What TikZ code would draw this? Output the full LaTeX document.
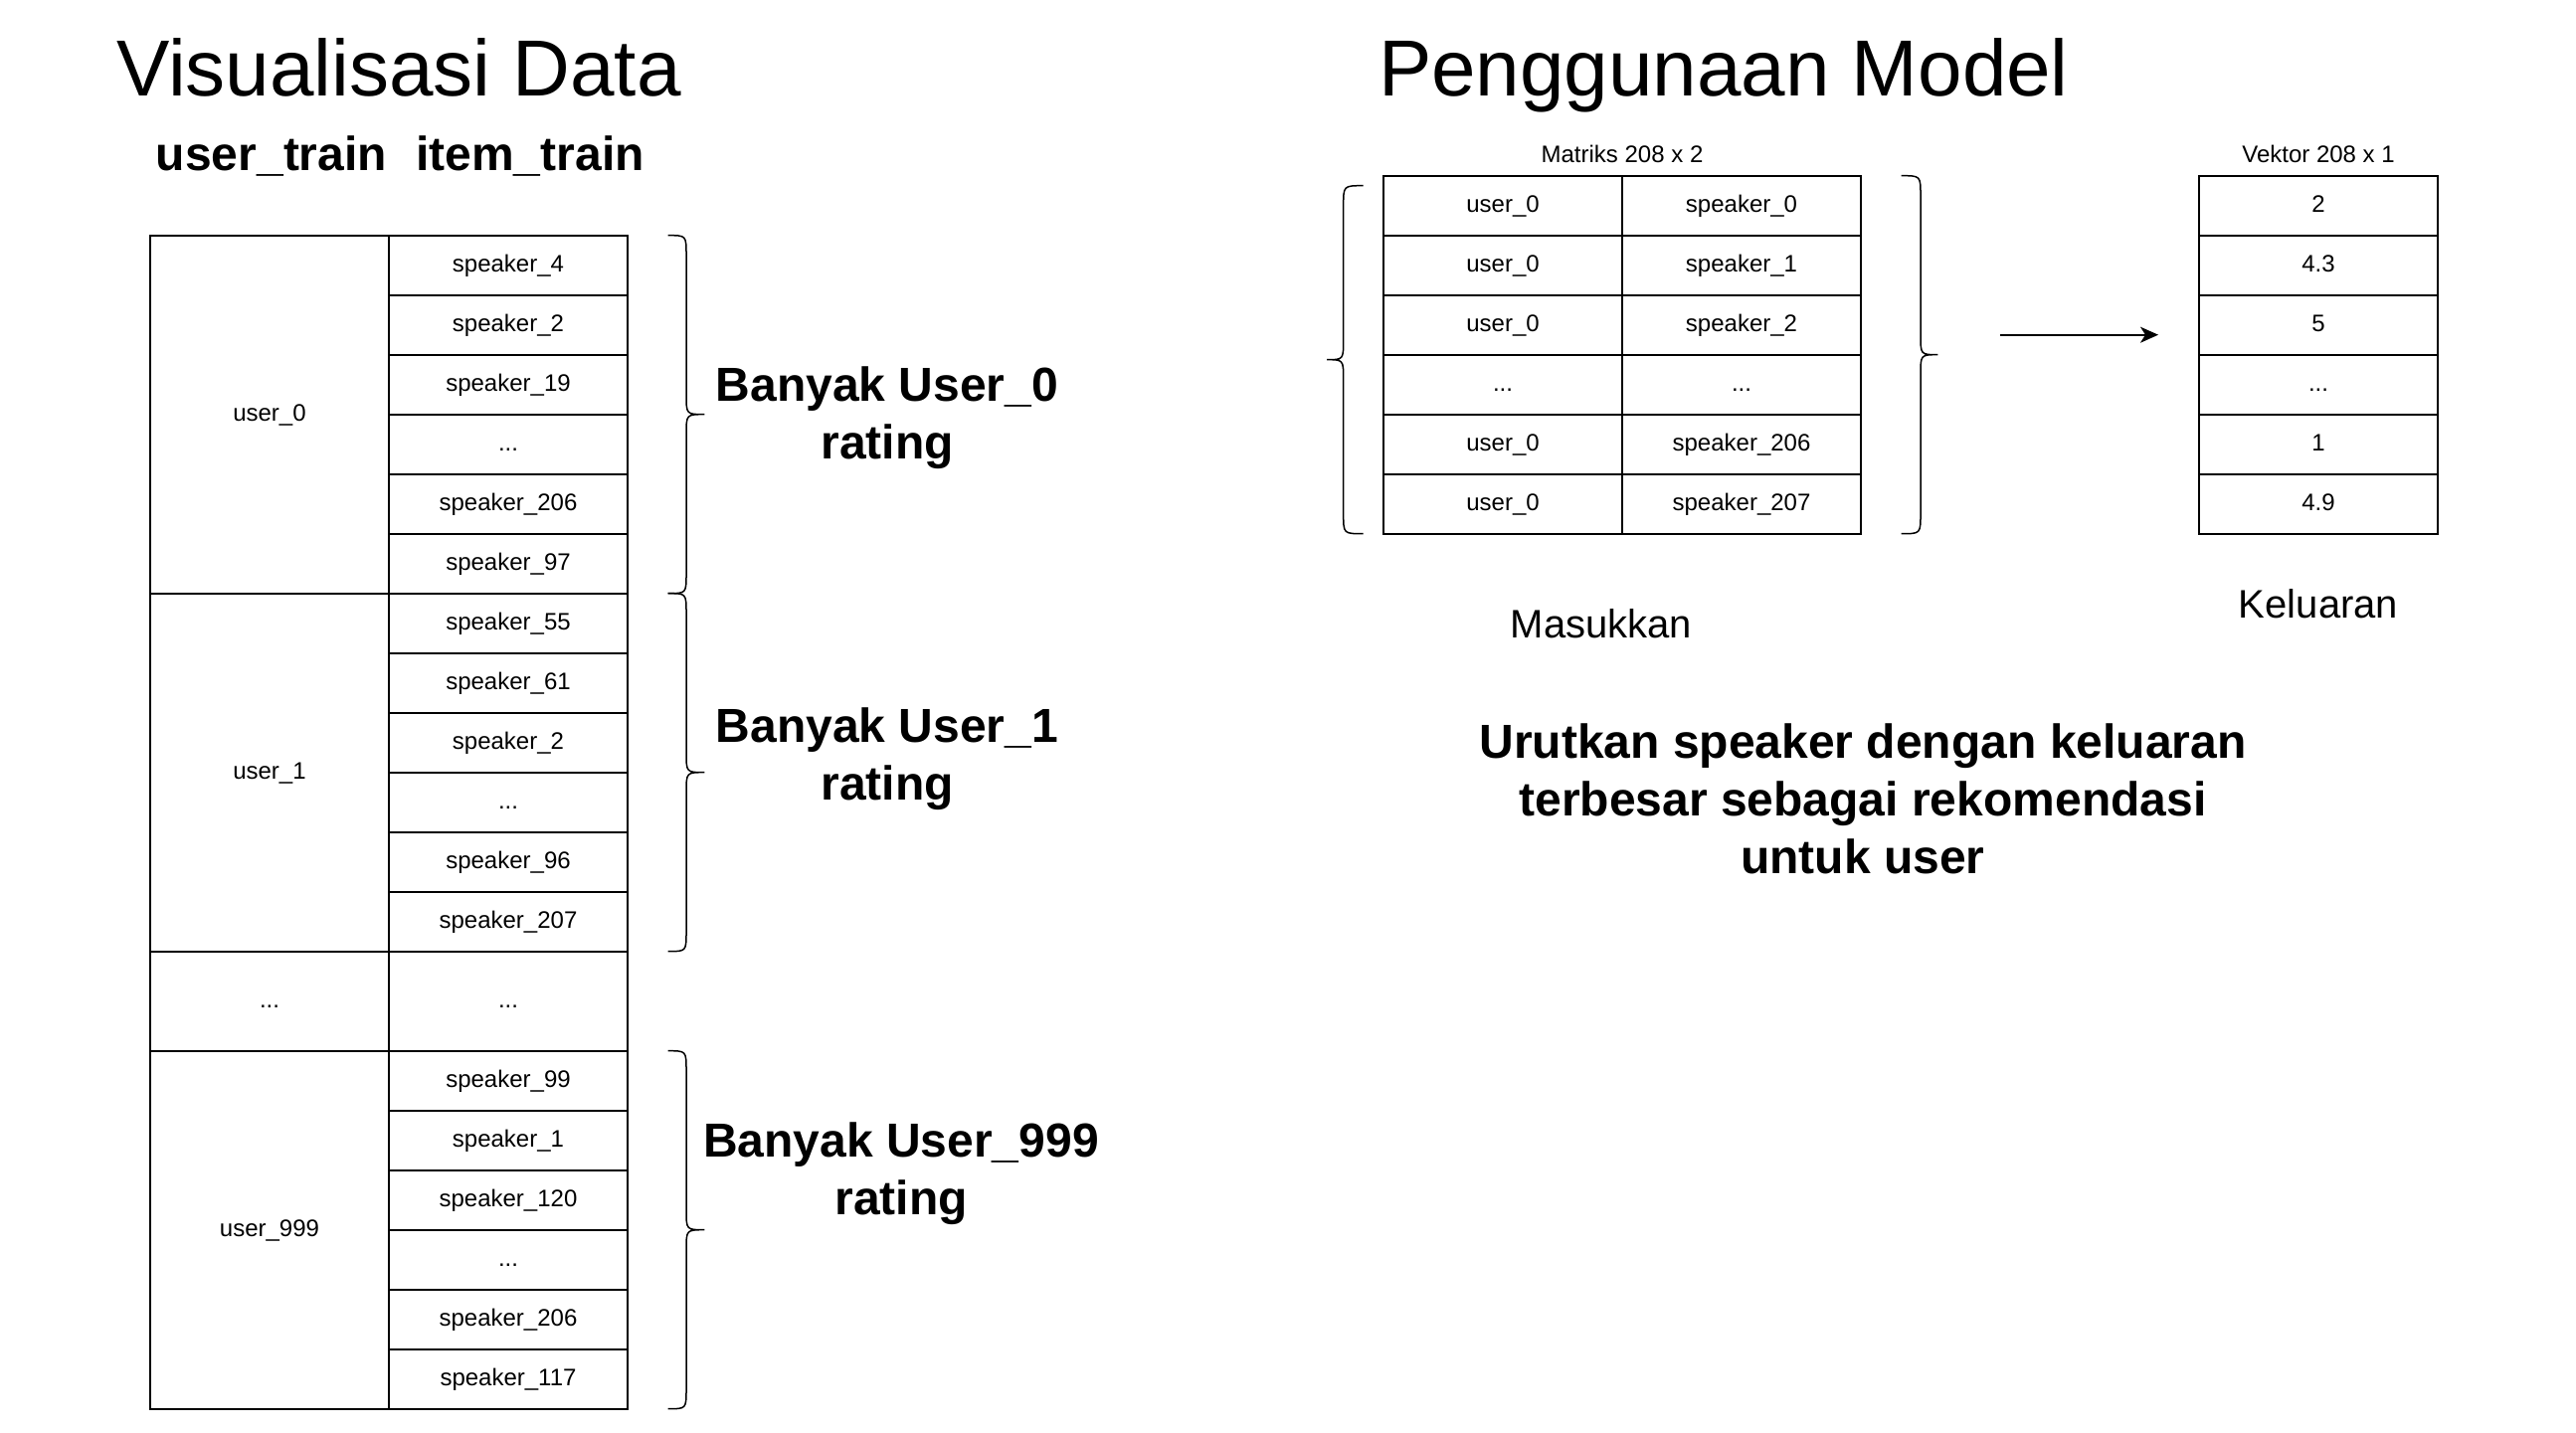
\documentclass[tikz,border=0pt]{standalone}
\usepackage{fontspec}
\setmainfont{Liberation Sans}
\usetikzlibrary{arrows.meta}
\newcommand\BraceShape[6]{\draw[bracestyle] (#1,#4) .. controls (#2,#4) .. (#2,#4+20) -- (#2,#5-20) .. controls (#2,#5) .. (#3,#5) .. controls (#2,#5) .. (#2,#5+20) -- (#2,#6-20) .. controls (#2,#6) .. (#1,#6);}
\begin{document}
\begin{tikzpicture}[x=1pt,y=-1pt,
  cellbox/.style={draw, line width=1.6pt, minimum width=240pt, minimum height=60pt, inner sep=0pt,
    font=\fontsize{24}{29}\selectfont, text height=16pt, text depth=2pt},
  bracestyle/.style={draw, line width=1.5pt},
  titletext/.style={anchor=base, inner sep=0pt, font=\fontsize{80}{96}\selectfont},
  headtext/.style={anchor=base, inner sep=0pt, font=\bfseries\fontsize{48}{58}\selectfont},
  captext/.style={anchor=base, inner sep=0pt, font=\fontsize{24}{29}\selectfont},
  midtext/.style={anchor=base, inner sep=0pt, font=\fontsize{40}{48}\selectfont},
  bigtext/.style={align=center, inner sep=0pt, font=\bfseries\fontsize{48}{58}\selectfont},
  arrowline/.style={line width=1.6pt, -{Stealth[length=18pt,width=16pt,inset=5pt]}}]
\fill[white] (0,0) rectangle (2590,1440);
\useasboundingbox (0,0) rectangle (2590,1440);

% titles
\node[titletext] (t1) at (401,96.7) {Visualisasi Data};
\node[titletext] (t2) at (1733,96.7) {Penggunaan Model};
\node[headtext] (h1) at (273,171.7) {user\_train};
\node[headtext] (h2) at (533,171.7) {item\_train};

% left table: user column
\node[cellbox, minimum height=360pt] (u0) at (271,416.7) {user\_0};
\node[cellbox, minimum height=360pt] (u1) at (271,776.7) {user\_1};
\node[cellbox, minimum height=100pt] (ud) at (271,1006.7) {...};
\node[cellbox, minimum height=360pt] (u999) at (271,1236.7) {user\_999};

% left table: item column
\node[cellbox] (a0) at (511,266.7) {speaker\_4};
\node[cellbox] (a1) at (511,326.7) {speaker\_2};
\node[cellbox] (a2) at (511,386.7) {speaker\_19};
\node[cellbox] (a3) at (511,446.7) {...};
\node[cellbox] (a4) at (511,506.7) {speaker\_206};
\node[cellbox] (a5) at (511,566.7) {speaker\_97};
\node[cellbox] (b0) at (511,626.7) {speaker\_55};
\node[cellbox] (b1) at (511,686.7) {speaker\_61};
\node[cellbox] (b2) at (511,746.7) {speaker\_2};
\node[cellbox] (b3) at (511,806.7) {...};
\node[cellbox] (b4) at (511,866.7) {speaker\_96};
\node[cellbox] (b5) at (511,926.7) {speaker\_207};
\node[cellbox, minimum height=100pt] (bd) at (511,1006.7) {...};
\node[cellbox] (c0) at (511,1086.7) {speaker\_99};
\node[cellbox] (c1) at (511,1146.7) {speaker\_1};
\node[cellbox] (c2) at (511,1206.7) {speaker\_120};
\node[cellbox] (c3) at (511,1266.7) {...};
\node[cellbox] (c4) at (511,1326.7) {speaker\_206};
\node[cellbox] (c5) at (511,1386.7) {speaker\_117};

% braces left
\BraceShape{671.7}{690}{708.3}{236.7}{416.7}{596.7}
\BraceShape{671.7}{690}{708.3}{596.7}{776.7}{956.7}
\BraceShape{671.7}{690}{708.3}{1056.7}{1236.7}{1416.7}

\node[bigtext] (l0) at (892,420) {Banyak User\_0\\rating};
\node[bigtext] (l1) at (892,763) {Banyak User\_1\\rating};
\node[bigtext] (l2) at (906,1180) {Banyak User\_999\\rating};

% matrix
\node[captext] (mt) at (1631,163) {Matriks 208 x 2};
\node[cellbox] (m00) at (1511,206.7) {user\_0};
\node[cellbox] (m01) at (1751,206.7) {speaker\_0};
\node[cellbox] (m10) at (1511,266.7) {user\_0};
\node[cellbox] (m11) at (1751,266.7) {speaker\_1};
\node[cellbox] (m20) at (1511,326.7) {user\_0};
\node[cellbox] (m21) at (1751,326.7) {speaker\_2};
\node[cellbox] (m30) at (1511,386.7) {...};
\node[cellbox] (m31) at (1751,386.7) {...};
\node[cellbox] (m40) at (1511,446.7) {user\_0};
\node[cellbox] (m41) at (1751,446.7) {speaker\_206};
\node[cellbox] (m50) at (1511,506.7) {user\_0};
\node[cellbox] (m51) at (1751,506.7) {speaker\_207};

\BraceShape{1370.7}{1350.7}{1334}{186.7}{361.7}{536.7}
\BraceShape{1911.7}{1931}{1948.3}{176.7}{356.7}{536.7}

% vector
\node[captext] (vt) at (2331,163) {Vektor 208 x 1};
\node[cellbox] (v0) at (2331,206.7) {2};
\node[cellbox] (v1) at (2331,266.7) {4.3};
\node[cellbox] (v2) at (2331,326.7) {5};
\node[cellbox] (v3) at (2331,386.7) {...};
\node[cellbox] (v4) at (2331,446.7) {1};
\node[cellbox] (v5) at (2331,506.7) {4.9};

% arrow
\coordinate (arrS) at (2011,336.7);
\coordinate (arrE) at (2170,336.7);
\draw[arrowline] (arrS) -- (arrE);

\node[midtext] (ms) at (1610,641) {Masukkan};
\node[midtext] (kl) at (2331,621) {Keluaran};

\node[bigtext] (ur) at (1873,803) {Urutkan speaker dengan keluaran\\terbesar sebagai rekomendasi\\untuk user};
\end{tikzpicture}
\end{document}
